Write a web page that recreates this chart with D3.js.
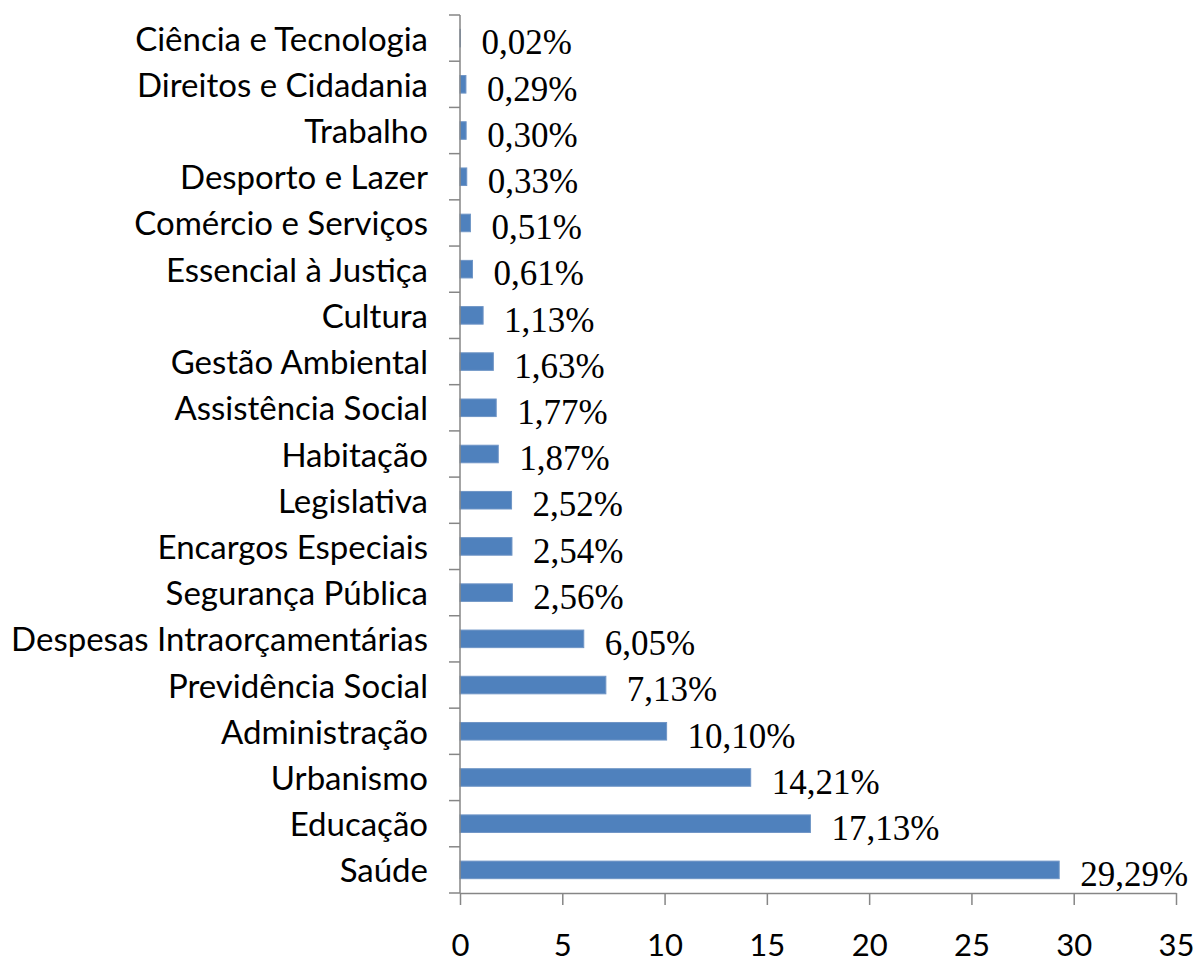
<!DOCTYPE html>
<html>
<head>
<meta charset="utf-8" />
<title></title>
<style>
  body { margin: 0; background: #fff; }
  .cat { font-family: Lato, "Open Sans", sans-serif; font-size: 33px; fill: #000; }
  .val { font-family: "Liberation Serif", "Times New Roman", serif; font-size: 35px; fill: #000; }
  .xaxis text { font-family: Lato, "Open Sans", sans-serif; font-size: 31px; fill: #000; }
  .xaxis line, .xaxis path { stroke: #868686; stroke-width: 1.5px; }
</style>
</head>
<body>
<script src="https://d3js.org/d3.v7.min.js"></script>
<script>
var categories = ["Ciência e Tecnologia", "Direitos e Cidadania", "Trabalho", "Desporto e Lazer",
  "Comércio e Serviços", "Essencial à Justiça", "Cultura", "Gestão Ambiental", "Assistência Social",
  "Habitação", "Legislativa", "Encargos Especiais", "Segurança Pública", "Despesas Intraorçamentárias",
  "Previdência Social", "Administração", "Urbanismo", "Educação", "Saúde"];
var values = [0.02, 0.29, 0.30, 0.33, 0.51, 0.61, 1.13, 1.63, 1.77, 1.87, 2.52, 2.54, 2.56,
  6.05, 7.13, 10.10, 14.21, 17.13, 29.29];
var xTicks = [0, 5, 10, 15, 20, 25, 30, 35];

var width = 1203, height = 963;
var mLeft = 460, mRight = 1176, mTop = 15, mBottom = 893;

var ptBR = d3.formatLocale({decimal: ",", thousands: ".", grouping: [3], currency: ["R$", ""]});
var fmt = ptBR.format(".2f");

var svg = d3.select("body").append("svg")
    .attr("width", width)
    .attr("height", height);

var x = d3.scaleLinear().domain([0, 35]).range([mLeft, mRight]);
var y = d3.scaleBand().domain(categories).range([mTop, mBottom]).padding(0);
var barH = y.bandwidth() * 0.38;

// bars
svg.append("g").selectAll("rect")
    .data(categories)
    .enter().append("rect")
    .attr("x", x(0))
    .attr("y", function(d) { return y(d) + y.bandwidth() / 2 - barH / 2; })
    .attr("width", function(d, i) { return x(values[i]) - x(0); })
    .attr("height", barH)
    .attr("fill", "#4f81bd")
    .attr("stroke", "#6f95c6")
    .attr("stroke-width", 1);

// value labels
svg.append("g").selectAll("text")
    .data(categories)
    .enter().append("text")
    .attr("class", "val")
    .attr("x", function(d, i) { return x(values[i]) + 21; })
    .attr("y", function(d) { return y(d) + y.bandwidth() / 2 + 4; })
    .attr("dy", "0.35em")
    .text(function(d, i) { return fmt(values[i]) + "%"; });

// y axis line + boundary ticks
var ya = svg.append("g");
ya.append("line")
    .attr("x1", mLeft).attr("x2", mLeft)
    .attr("y1", mTop).attr("y2", mBottom)
    .attr("stroke", "#868686").attr("stroke-width", 1.5);
ya.selectAll(".tk")
    .data(categories.map(function(c) { return y(c); }).concat([mBottom]))
    .enter().append("line")
    .attr("x1", mLeft - 11).attr("x2", mLeft)
    .attr("y1", function(d) { return d; }).attr("y2", function(d) { return d; })
    .attr("stroke", "#868686").attr("stroke-width", 1.5);

// category labels
ya.selectAll(".cat")
    .data(categories)
    .enter().append("text")
    .attr("class", "cat")
    .attr("text-anchor", "end")
    .attr("x", 428)
    .attr("y", function(d) { return y(d) + y.bandwidth() / 2 + 1; })
    .attr("dy", "0.35em")
    .text(function(d) { return d; });

// x axis
var xa = svg.append("g")
    .attr("class", "xaxis")
    .attr("transform", "translate(0," + mBottom + ")")
    .call(d3.axisBottom(x).tickValues(xTicks).tickSize(12).tickSizeOuter(0).tickPadding(29));
</script>
</body>
</html>
